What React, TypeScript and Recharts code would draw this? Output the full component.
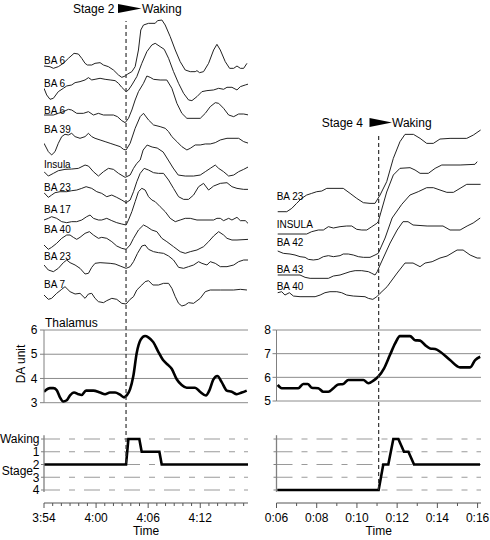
import React from "react";
import { LineChart, Line, XAxis, YAxis, CartesianGrid, ReferenceLine } from "recharts";

type Pt = [number, number];

// left recording: time in minutes after 3:54, right recording: minutes (0:06 = 6)
const leftStartClock = 234;
const leftWake = 9.45;
const rightWake = 11.08;

const leftLabels = ["BA 6", "BA 6", "BA 6", "BA 39", "Insula", "BA 23", "BA 17", "BA 40", "BA 23", "BA 7"];
const rightLabels = ["BA 23", "INSULA", "BA 42", "BA 43", "BA 40"];

// regional signal, arbitrary units relative to trace start
const ba6Top: Pt[] = [[0,0],[0.69,-0.2],[1.08,-0.7],[1.65,-0.2],[2.23,0.8],[2.81,2.3],[3.46,3.8],[3.96,3.6],[4.35,2.3],[4.73,0.8],[5.0,0.3],[5.5,0.3],[5.88,0.8],[6.46,1.0],[6.85,0.3],[7.42,-0.2],[8.0,-1.2],[8.58,-2.7],[8.96,-3.4],[9.35,-3.0],[9.65,-2.4],[10.12,-1.7],[10.5,-0.2],[10.88,4.8],[11.15,10.8],[11.46,12.3],[12.04,12.8],[12.81,12.8],[13.08,13.6],[13.58,13.8],[13.96,12.3],[14.54,8.8],[15.12,4.8],[15.69,1.3],[16.27,-1.2],[16.85,-1.7],[17.42,-1.7],[17.62,-1.4],[17.92,-2.0],[18.38,-1.7],[18.96,0.8],[19.54,4.8],[19.92,6.5],[20.31,4.8],[20.88,1.3],[21.38,-0.7],[21.85,-0.7],[22.23,0],[22.62,-0.7],[23.0,-0.7],[23.38,0.8]];
const ba6Mid: Pt[] = [[0,0],[0.31,-2.0],[0.69,-3.3],[1.08,-3.0],[1.65,-1.0],[2.23,0],[2.62,0.7],[3.19,1.0],[3.58,1.7],[4.15,2.0],[4.73,2.5],[5.12,3.2],[5.5,2.5],[5.88,2.7],[6.46,3.0],[7.04,2.7],[7.62,2.5],[8.19,2.3],[8.58,1.5],[8.96,0.3],[9.46,-1.0],[9.73,-0.5],[10.12,1.0],[10.69,3.5],[11.27,7.5],[11.85,11.0],[12.42,13.0],[12.81,13.5],[13.38,12.5],[13.85,11.7],[14.35,9.0],[14.92,5.0],[15.5,1.5],[16.08,-1.5],[16.65,-3.5],[17.04,-3.7],[17.62,-2.5],[18.19,-1.0],[18.77,-0.7],[19.54,-0.5],[20.12,0],[20.69,-0.3],[21.08,0.3],[21.65,0.3],[22.23,-0.5],[22.62,0.5],[23.19,1.0],[23.58,1.3]];
const ba6Low: Pt[] = [[0,0],[1.08,0],[1.65,0.5],[2.23,1.0],[2.81,1.7],[3.19,1.5],[3.77,0.5],[4.54,0.5],[5.12,1.0],[5.69,0],[6.27,0.5],[6.85,0],[8.0,0],[8.46,-0.5],[8.96,-1.7],[9.35,-2.3],[9.73,-1.0],[10.12,1.5],[10.5,4.5],[10.88,7.0],[11.46,9.5],[11.85,11.7],[12.23,11.3],[12.62,10.7],[13.38,10.5],[14.15,10.5],[14.73,8.0],[15.31,3.5],[15.88,0.5],[16.46,-1.0],[18.0,-1.0],[18.58,0.5],[19.15,2.5],[19.73,3.7],[20.12,3.5],[20.69,2.0],[21.27,0],[21.85,-0.5],[22.42,0.3],[23.0,0.3],[23.58,0]];
const ba39: Pt[] = [[0,0],[0.5,-2.5],[0.88,-3.5],[1.27,-2.5],[1.65,0],[2.04,2.0],[2.42,2.7],[2.81,2.5],[3.19,3.0],[3.58,2.0],[4.15,1.5],[4.73,2.0],[5.12,3.0],[5.5,2.0],[5.88,1.5],[6.46,1.0],[7.04,0.5],[7.62,0],[8.19,-0.5],[8.77,-1.0],[9.15,-1.8],[9.46,-2.0],[9.92,0],[10.5,4.5],[11.08,8.0],[11.46,9.0],[12.04,7.0],[12.62,5.5],[13.38,5.0],[13.96,4.5],[14.35,3.5],[14.73,2.0],[15.31,0.5],[15.88,-1.0],[16.46,-2.0],[16.85,-1.5],[17.42,-0.5],[18.0,-0.5],[18.58,-0.2],[19.15,-0.2],[19.73,0.2],[20.31,1.0],[21.08,1.5],[22.42,1.5],[23.0,0.5],[23.58,0]];
const insula: Pt[] = [[0,0],[0.5,-1.3],[1.08,-0.5],[1.65,0.3],[2.42,0.7],[3.19,0.8],[3.96,1.0],[4.73,2.0],[5.12,1.7],[5.69,0],[6.27,-1.3],[6.85,0],[7.42,1.0],[8.0,0.7],[8.58,-0.5],[9.35,-1.7],[9.92,-1.0],[10.31,1.0],[10.69,2.5],[11.08,3.5],[11.42,6.5],[11.88,8.0],[12.46,7.4],[13.04,7.1],[13.73,5.9],[14.31,3.5],[14.88,1.1],[15.46,-1.0],[16.27,-1.3],[17.23,-1.3],[18.0,-1.0],[18.58,0],[19.15,1.0],[19.73,2.0],[20.12,1.0],[20.69,0],[21.27,-1.3],[21.85,-1.0],[22.42,0],[23.0,0.7],[23.58,1.5]];
const ba23a: Pt[] = [[0,0],[0.5,-1.4],[0.88,-0.7],[1.27,0],[1.85,0.3],[2.62,0.3],[3.19,0.6],[3.77,0.8],[4.35,1.3],[4.85,1.8],[5.5,1.3],[6.08,0.3],[6.65,-0.2],[7.23,-1.2],[7.81,-0.7],[8.38,-1.4],[8.96,-2.2],[9.46,-3.0],[9.92,-2.2],[10.31,0.3],[10.69,3.3],[11.08,5.8],[11.54,7.3],[12.04,6.8],[12.62,6.0],[13.19,5.8],[13.77,5.8],[14.35,3.8],[14.92,1.3],[15.5,-1.2],[16.08,-2.0],[16.65,-2.0],[17.23,-0.7],[17.81,1.8],[18.38,2.8],[18.96,0.8],[19.54,2.0],[20.31,2.8],[21.08,3.0],[21.65,1.8],[22.23,1.3],[23.0,1.0],[23.58,1.0]];
const ba17: Pt[] = [[0,0],[0.5,0.5],[0.88,1.0],[1.46,0.5],[2.04,-0.5],[2.62,-0.8],[3.19,-0.5],[3.77,-0.5],[4.35,0],[4.92,1.0],[5.31,1.5],[5.69,0.5],[6.27,0],[6.65,0],[7.23,0.5],[7.81,-0.2],[8.38,-0.8],[8.96,-1.2],[9.46,-1.5],[9.73,0],[10.12,2.5],[10.5,5.5],[10.88,8.5],[11.27,9.5],[11.65,9.0],[12.04,7.0],[12.42,6.0],[12.81,5.5],[13.38,4.0],[13.96,2.5],[14.54,0.5],[15.12,-0.5],[15.69,0],[16.27,0.5],[16.85,0.5],[17.62,0],[19.54,0],[19.92,0.5],[20.31,0.5],[20.69,-0.2],[21.27,0.5],[21.65,0],[22.23,0.8],[22.62,-0.2],[23.19,-0.2],[23.58,-1.2]];
const ba40a: Pt[] = [[0,0],[0.5,-1.3],[0.88,-0.7],[1.46,0.5],[2.04,2.0],[2.62,3.0],[3.0,3.0],[3.38,2.3],[3.77,1.7],[4.15,2.3],[4.73,3.5],[5.23,4.0],[5.69,3.0],[6.27,2.0],[6.65,2.3],[7.23,2.0],[7.81,1.0],[8.38,-0.3],[8.96,-1.0],[9.46,-1.3],[9.92,0],[10.31,2.0],[10.88,4.5],[11.46,6.0],[11.85,5.5],[12.42,4.5],[13.0,4.0],[13.58,2.0],[14.15,1.0],[14.92,-0.5],[15.69,-2.0],[16.27,-2.5],[16.85,-2.0],[17.62,-1.5],[18.38,-0.5],[18.96,1.0],[19.54,2.7],[20.12,4.0],[20.69,3.0],[21.08,2.0],[21.65,1.5],[22.23,1.5],[23.58,1.7]];
const ba23b: Pt[] = [[0,0],[0.5,-1.5],[1.08,-2.0],[1.65,-1.0],[2.23,0.7],[2.62,1.5],[3.0,0.7],[3.58,0],[4.15,-1.0],[4.73,-2.7],[5.12,-2.5],[5.5,-0.7],[5.88,0.5],[6.46,0.7],[7.62,0.5],[8.19,0.3],[8.77,-0.3],[9.46,-1.0],[9.92,-0.5],[10.31,1.0],[10.77,3.5],[11.27,5.7],[11.65,6.0],[12.04,4.7],[12.62,4.0],[13.19,3.7],[13.77,3.5],[14.35,2.7],[14.92,1.5],[15.5,-0.7],[16.08,-1.0],[16.65,-0.5],[17.23,0],[17.81,1.0],[18.19,0.5],[18.77,0],[19.15,1.0],[19.73,0.5],[20.31,-0.5],[21.08,-0.5],[21.85,0],[22.42,1.0],[23.0,1.5],[23.58,1.5]];
const ba7: Pt[] = [[0,0],[0.5,-1.3],[0.88,-1.0],[1.46,0.5],[2.04,1.7],[2.42,2.5],[3.0,1.0],[3.58,0.3],[4.15,0.5],[4.73,-1.0],[5.12,0.3],[5.5,0.5],[5.88,-1.0],[6.27,-2.0],[6.85,-2.3],[7.23,-1.7],[7.81,-1.0],[8.38,-1.3],[8.96,-2.5],[9.46,-2.7],[9.92,-1.3],[10.31,-0.5],[10.69,1.5],[11.27,3.0],[11.65,4.0],[12.04,4.3],[12.54,3.0],[13.19,3.0],[13.77,3.5],[14.35,3.5],[14.73,2.0],[15.12,-0.5],[15.5,-2.5],[15.88,-3.3],[16.27,-3.0],[16.65,-2.3],[17.23,-2.5],[18.0,-1.0],[18.58,1.0],[19.15,1.5],[20.31,1.5],[21.85,1.5],[22.62,1.7],[23.38,1.5]];
const leftTraces = [ba6Top, ba6Mid, ba6Low, ba39, insula, ba23a, ba17, ba40a, ba23b, ba7];

const rBa23: Pt[] = [[6.06,0],[6.51,0],[6.76,1.0],[7.0,2.5],[7.25,4.0],[7.5,5.0],[7.75,5.5],[8.0,6.0],[8.25,6.2],[8.5,7.0],[9.32,7.0],[9.66,5.5],[9.99,4.0],[10.32,2.7],[10.65,2.5],[10.9,2.5],[11.15,5.0],[11.48,9.0],[11.81,16.0],[12.14,21.0],[12.39,23.2],[12.81,23.2],[13.14,22.0],[13.47,20.5],[13.8,20.5],[14.13,21.8],[14.63,22.0],[15.46,22.0],[15.79,23.0],[16.15,24.5]];
const rInsula: Pt[] = [[6.06,0],[7.5,0],[7.75,0.7],[8.08,1.2],[8.33,1.2],[8.58,2.2],[8.83,1.8],[9.16,2.2],[9.49,2.4],[9.74,2.4],[9.99,1.4],[10.24,1.2],[10.49,1.2],[10.74,2.2],[10.99,3.2],[11.06,3.7],[11.48,12.6],[11.81,17.7],[12.14,19.7],[12.64,19.9],[12.89,19.2],[13.14,18.2],[13.55,18.2],[13.89,19.7],[14.22,20.7],[15.13,20.7],[15.87,20.9],[15.98,21.7]];
const rBa42: Pt[] = [[6.06,0],[6.34,-0.7],[6.67,-0.9],[6.92,-1.2],[7.17,-1.7],[7.42,-1.9],[7.58,-2.5],[7.83,-2.7],[8.08,-2.5],[8.33,-1.7],[8.58,-1.4],[8.83,-1.7],[9.16,-1.4],[9.32,-0.9],[9.57,-0.9],[9.82,-1.2],[10.07,-1.7],[10.32,-1.9],[10.65,-1.9],[10.9,-1.2],[11.06,-0.7],[11.4,3.9],[11.75,9.9],[12.23,14.0],[12.64,16.8],[13.05,17.8],[13.47,19.0],[13.8,19.0],[14.13,18.3],[14.47,17.6],[14.8,17.6],[15.13,18.8],[15.46,20.0],[16.15,20.0]];
const rBa43: Pt[] = [[6.06,0],[7.17,0],[7.42,-0.7],[7.67,-1.0],[8.58,-1.0],[8.83,-0.3],[9.16,0],[9.41,0.5],[9.66,1.0],[9.91,1.3],[10.24,1.3],[10.57,1.0],[10.74,0.5],[10.9,0],[11.01,1.0],[11.15,3.0],[11.65,9.6],[12.0,13.5],[12.29,16.0],[12.54,16.0],[12.79,15.0],[13.49,14.7],[14.28,14.7],[14.63,13.5],[15.13,13.5],[15.48,14.7],[15.78,15.6],[16.13,17.1]];
const rBa40: Pt[] = [[6.06,0],[6.26,0.3],[6.42,-0.7],[6.64,0],[6.84,-1.0],[7.17,-1.2],[7.92,-1.2],[8.17,-0.7],[8.41,0],[8.66,0.3],[9.0,0.3],[9.24,0],[9.49,-0.7],[9.82,-1.0],[10.4,-1.2],[10.57,-1.7],[10.79,-2.0],[10.99,-1.2],[11.15,-0.2],[11.5,1.8],[12.0,5.9],[12.39,8.9],[12.79,8.9],[13.14,7.8],[13.39,8.9],[13.74,9.3],[14.13,10.4],[14.48,11.0],[14.98,12.8],[15.28,12.8],[15.63,11.3],[15.98,10.4],[16.15,10.4]];
const rightTraces = [rBa23, rInsula, rBa42, rBa43, rBa40];

// thalamus DA units
const thalLeft: Pt[] = [[0,3.45],[0.69,3.6],[1.07,3.6],[1.46,3.52],[1.84,3.22],[2.22,3.05],[2.62,3.1],[3.0,3.3],[3.46,3.42],[3.95,3.35],[4.34,3.32],[4.84,3.5],[5.68,3.5],[6.45,3.42],[7.03,3.35],[7.6,3.42],[8.18,3.42],[8.76,3.33],[9.22,3.22],[9.53,3.3],[9.91,3.55],[10.29,4.1],[10.68,5.05],[11.14,5.6],[11.64,5.75],[12.02,5.7],[12.59,5.5],[13.17,5.1],[13.74,4.75],[14.32,4.55],[14.71,4.4],[15.29,3.97],[15.86,3.73],[16.44,3.62],[17.4,3.62],[17.97,3.45],[18.66,3.3],[19.04,3.5],[19.5,3.95],[19.97,4.1],[20.47,3.85],[21.05,3.5],[21.62,3.45],[22.2,3.35],[22.78,3.42],[23.35,3.5]];
const thalRight: Pt[] = [[6.06,5.68],[6.26,5.54],[6.51,5.54],[7.08,5.54],[7.33,5.72],[7.55,5.72],[7.75,5.56],[8.08,5.54],[8.33,5.39],[8.58,5.39],[8.83,5.54],[9.07,5.7],[9.32,5.72],[9.57,5.89],[10.32,5.89],[10.57,5.75],[10.82,5.86],[11.06,6.03],[11.35,6.38],[11.64,6.94],[11.9,7.43],[12.14,7.74],[12.64,7.74],[12.89,7.57],[13.14,7.55],[13.39,7.36],[13.64,7.22],[13.89,7.2],[14.14,7.08],[14.63,6.73],[15.13,6.42],[15.63,6.42],[15.88,6.73],[16.13,6.87]];
const thalLeftTicks = [3, 4, 5, 6];
const thalRightTicks = [5, 6, 7, 8];

// sleep stage (0 = waking)
const stageLeft: Pt[] = [[0,2],[9.45,2],[9.72,0],[10.98,0],[11.25,1],[13.29,1],[13.56,2],[23.54,2]];
const stageRight: Pt[] = [[6.04,4],[11.08,4],[11.31,2],[11.56,2],[11.81,0],[12.06,0],[12.34,1],[12.56,1],[12.84,2],[16.12,2]];
const stageNames = ["Waking", "1", "2", "3", "4"];
const stageLevels = [0, 1, 2, 3, 4];

const leftMinuteTicks = Array.from({ length: 24 }, (_, i) => i);
const rightMinuteTicks = Array.from({ length: 11 }, (_, i) => i + 6);

// ---- layout ----
const W = 490;
const H = 540;
const FONT = '"Liberation Sans", Arial, sans-serif';
const L = { x0: 44, x1: 248, dom: [0, 23.5] as [number, number] };
const R = { x0: 276.5, x1: 481, dom: [6, 16.17] as [number, number] };
const UNIT = 3.333;
const leftBase = [66, 88.3, 115, 143.3, 171.7, 192.7, 220, 245, 265, 295];
const rightBase = [211.7, 234, 251, 275, 292.7];
const leftLabelY = [64, 87, 114, 133, 168.3, 190.7, 213.3, 233.3, 260, 288.3];
const rightLabelY = [200, 227.5, 246, 272.5, 290];

const clock = (m: number) => `${Math.floor(m / 60)}:${String(Math.round(m % 60)).padStart(2, "0")}`;
const toRows = (pts: Pt[], key: string) => pts.map(([t, v]) => ({ t, [key]: v }));

function Plot(props: { x0: number; x1: number; y0: number; y1: number; yw?: number; xh?: number; data?: any[]; children: React.ReactNode }) {
  const { x0, x1, y0, y1, yw = 0, xh = 0, data, children } = props;
  return (
    <div style={{ position: "absolute", left: 0, top: 0 }}>
      <LineChart width={W} height={H} data={data} margin={{ top: y0, left: x0 - yw, right: W - x1, bottom: H - y1 - xh }}>
        {children}
      </LineChart>
    </div>
  );
}

function TimeTick(props: any) {
  const { x, y, payload, major, fmt } = props;
  const isMajor = major(payload.value);
  return (
    <g>
      <line x1={x} x2={x} y1={y} y2={y + (isMajor ? 5 : 3)} stroke="#555" />
      {isMajor && (
        <text x={x} y={y + 18.7} textAnchor="middle" fontSize={12} fill="#000">
          {fmt(payload.value)}
        </text>
      )}
    </g>
  );
}

function Traces({ side }: { side: "left" | "right" }) {
  const P = side === "left" ? L : R;
  const traces = side === "left" ? leftTraces : rightTraces;
  const base = side === "left" ? leftBase : rightBase;
  const top = side === "left" ? 10 : 110;
  return (
    <Plot x0={P.x0} x1={P.x1} y0={top} y1={310}>
      <XAxis type="number" dataKey="t" domain={P.dom} hide allowDataOverflow />
      <YAxis type="number" domain={[top, 310]} reversed hide allowDataOverflow />
      {traces.map((tr, i) => (
        <Line
          key={i}
          data={tr.map(([t, v]) => ({ t, y: base[i] - v * UNIT }))}
          dataKey="y"
          type="linear"
          stroke="#222"
          strokeWidth={1}
          dot={false}
          isAnimationActive={false}
        />
      ))}
    </Plot>
  );
}

function Thalamus({ side }: { side: "left" | "right" }) {
  const P = side === "left" ? L : R;
  const data = side === "left" ? thalLeft : thalRight;
  const ticks = side === "left" ? thalLeftTicks : thalRightTicks;
  const y1 = side === "left" ? 402.7 : 401;
  const yw = 40;
  return (
    <Plot x0={P.x0} x1={P.x1} y0={330} y1={y1} yw={yw} data={toRows(data, "v")}>
      <CartesianGrid vertical={false} stroke="#8c8c8c" />
      <XAxis type="number" dataKey="t" domain={P.dom} hide allowDataOverflow />
      <YAxis
        type="number"
        domain={[ticks[0], ticks[3]]}
        ticks={ticks}
        interval={0}
        width={yw}
        tickSize={4}
        tickMargin={side === "left" ? 2.5 : 1.5}
        axisLine={{ stroke: "#808080" }}
        tickLine={{ stroke: "#808080" }}
        tick={{ fontSize: 12, fill: "#000" }}
      />
      <Line dataKey="v" type="monotone" stroke="#000" strokeWidth={2.6} dot={false} isAnimationActive={false} />
    </Plot>
  );
}

function Stage({ side }: { side: "left" | "right" }) {
  const P = side === "left" ? L : R;
  const data = side === "left" ? stageLeft : stageRight;
  const yw = 44;
  return (
    <Plot x0={P.x0} x1={P.x1} y0={435.2} y1={491.9} yw={yw} data={toRows(data, "s")}>
      <XAxis type="number" dataKey="t" domain={P.dom} hide allowDataOverflow />
      <YAxis
        type="number"
        domain={[-0.3, 4.15]}
        allowDataOverflow
        reversed
        ticks={stageLevels}
        interval={0}
        width={yw}
        tickSize={3}
        tickMargin={1.5}
        axisLine={{ stroke: "#808080", strokeWidth: 1.3 }}
        tickLine={{ stroke: "#808080" }}
        tick={{ fontSize: 12, fill: "#000" }}
        tickFormatter={(v: number) => (side === "left" ? stageNames[v] : "")}
      />
      {stageLevels.map((lv) => (
        <ReferenceLine key={lv} y={lv} stroke="#9a9a9a" strokeWidth={1.2} strokeDasharray="16 9 6 9" />
      ))}
      <Line dataKey="s" type="linear" stroke="#000" strokeWidth={2.6} dot={false} isAnimationActive={false} />
    </Plot>
  );
}

function TimeAxis({ side }: { side: "left" | "right" }) {
  const P = side === "left" ? L : R;
  const ticks = side === "left" ? leftMinuteTicks : rightMinuteTicks;
  const data = side === "left" ? stageLeft : stageRight;
  const major = (v: number) => (side === "left" ? v % 6 === 0 : v % 2 === 0);
  const fmt = (v: number) => (side === "left" ? clock(leftStartClock + v) : clock(v));
  return (
    <Plot x0={P.x0} x1={P.x1} y0={500} y1={503} xh={30} data={toRows(data, "s")}>
      <XAxis
        type="number"
        dataKey="t"
        domain={P.dom}
        allowDataOverflow
        ticks={ticks}
        interval={0}
        height={30}
        tickSize={0}
        tickMargin={0}
        tickLine={false}
        axisLine={{ stroke: "#555" }}
        tick={(p: any) => <TimeTick {...p} major={major} fmt={fmt} />}
      />
      <YAxis type="number" domain={[0, 1]} hide allowDataOverflow />
    </Plot>
  );
}

function WakeLine({ side }: { side: "left" | "right" }) {
  const P = side === "left" ? L : R;
  const data = side === "left" ? stageLeft : stageRight;
  const y0 = side === "left" ? 21 : 133;
  const y1 = side === "left" ? 463 : 490;
  return (
    <Plot x0={P.x0} x1={P.x1} y0={y0} y1={y1} data={toRows(data, "s")}>
      <XAxis type="number" dataKey="t" domain={P.dom} hide allowDataOverflow />
      <YAxis type="number" domain={[0, 1]} hide allowDataOverflow />
      <ReferenceLine x={side === "left" ? leftWake : rightWake} stroke="#333" strokeWidth={1.2} strokeDasharray="4 3" />
    </Plot>
  );
}

function Texts() {
  return (
    <svg width={W} height={H} style={{ position: "absolute", left: 0, top: 0 }} fontFamily={FONT}>
      <text x={73} y={12.6} fontSize={12}>Stage 2</text>
      <polygon points="118,4 118,13 141.5,8.5" fill="#000" />
      <text x={142} y={12.6} fontSize={12}>Waking</text>
      <text x={363} y={126.5} fontSize={12} textAnchor="end">Stage 4</text>
      <polygon points="369.5,118 369.5,127 392,122.5" fill="#000" />
      <text x={392} y={126.5} fontSize={12}>Waking</text>
      {leftLabels.map((s, i) => (
        <text key={"l" + i} x={44} y={leftLabelY[i]} fontSize={10}>{s}</text>
      ))}
      {rightLabels.map((s, i) => (
        <text key={"r" + i} x={276.7} y={rightLabelY[i]} fontSize={10}>{s}</text>
      ))}
      <text x={45} y={327} fontSize={12}>Thalamus</text>
      <text transform="translate(25,364) rotate(-90)" textAnchor="middle" fontSize={12}>DA unit</text>
      <text x={1.7} y={475.3} fontSize={12}>Stage</text>
      <text x={146} y={535.3} fontSize={12} textAnchor="middle">Time</text>
      <text x={378.7} y={535.3} fontSize={12} textAnchor="middle">Time</text>
    </svg>
  );
}

export default function App() {
  return (
    <div style={{ position: "absolute", left: 0, top: 0, width: W, height: H, background: "#fff", fontFamily: FONT }}>
      <Traces side="left" />
      <Traces side="right" />
      <Thalamus side="left" />
      <Thalamus side="right" />
      <Stage side="left" />
      <Stage side="right" />
      <TimeAxis side="left" />
      <TimeAxis side="right" />
      <WakeLine side="left" />
      <WakeLine side="right" />
      <Texts />
    </div>
  );
}
